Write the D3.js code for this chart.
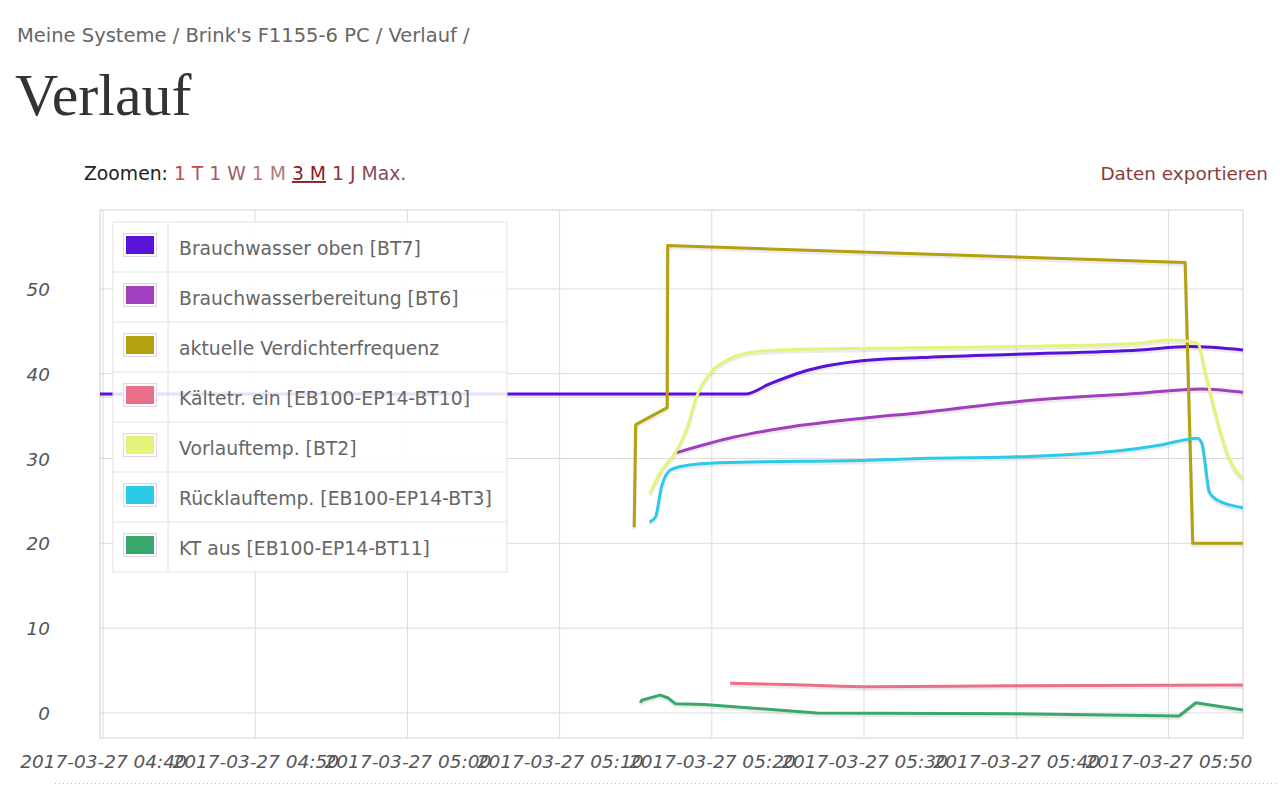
<!DOCTYPE html>
<html><head><meta charset="utf-8">
<script src="https://cdn.jsdelivr.net/npm/d3@7"></script>
<style>body{margin:0;background:#fff}svg{display:block}</style>
</head><body><svg id="c" width="1280" height="792"></svg>
<script>
// ---------- data ----------
const seriesNames = [
  "Brauchwasser oben [BT7]",
  "Brauchwasserbereitung [BT6]",
  "aktuelle Verdichterfrequenz",
  "Kältetr. ein [EB100-EP14-BT10]",
  "Vorlauftemp. [BT2]",
  "Rücklauftemp. [EB100-EP14-BT3]",
  "KT aus [EB100-EP14-BT11]"
];
const seriesColors = ["#5a12d8","#a23fbf","#b5a00f","#ea7089","#e4f47a","#2ccae9","#3aa86b"];

const bt7Times  = ["04:39:48","05:22:12","05:23:48","05:26:18","05:29:42","05:33:42","05:40:00","05:48:06","05:51:24","05:54:54"];
const bt7Values = [37.6,37.6,38.8,40.4,41.5,41.9,42.3,42.8,43.2,42.8];

const bt6Times  = ["05:17:42","05:21:24","05:24:42","05:30:12","05:33:42","05:40:00","05:48:06","05:52:06","05:54:54"];
const bt6Values = [30.7,32.5,33.6,34.8,35.4,36.7,37.7,38.2,37.8];

const freqTimes  = ["05:14:54","05:15:00","05:17:04","05:17:06","05:51:06","05:51:36","05:54:54"];
const freqValues = [21.9,34.0,36.0,55.1,53.1,20.0,20.0];

const bt10Times  = ["05:21:12","05:26:00","05:30:30","05:40:00","05:54:54"];
const bt10Values = [3.5,3.3,3.1,3.2,3.3];

const bt2Times  = ["05:15:56","05:16:36","05:17:42","05:18:24","05:19:00","05:19:54","05:21:00","05:22:30","05:24:42","05:30:12","05:40:00","05:48:06","05:50:06","05:51:54","05:52:30","05:53:12","05:53:51","05:54:30","05:54:54"];
const bt2Values = [25.9,28.3,31.0,33.7,37.3,40.1,41.6,42.5,42.8,43.0,43.2,43.6,44.0,43.6,39.6,34.6,30.7,28.4,27.7];

const bt3Times  = ["05:15:54","05:16:18","05:16:42","05:17:18","05:18:24","05:20:30","05:30:12","05:33:42","05:40:00","05:45:30","05:49:30","05:51:54","05:52:12","05:52:42","05:53:12","05:54:54"];
const bt3Values = [22.5,23.1,26.7,28.7,29.2,29.5,29.8,30.0,30.2,30.7,31.6,32.4,31.8,26.0,25.1,24.2];

const bt11Times  = ["05:15:18","05:15:24","05:16:36","05:17:06","05:17:36","05:19:30","05:26:54","05:40:00","05:50:42","05:51:48","05:54:54"];
const bt11Values = [1.2,1.5,2.1,1.8,1.1,1.0,0.0,-0.1,-0.35,1.2,0.35];

const yTickValues = [0,10,20,30,40,50];
const xTickTimes = ["04:40:00","04:50:00","05:00:00","05:10:00","05:20:00","05:30:00","05:40:00","05:50:00"];
const xDomainTimes = ["04:39:48","05:54:54"];
const yDomain = [-2.95, 59.3];

// ---------- helpers ----------
const parse = d3.timeParse("%Y-%m-%d %H:%M:%S");
const T = s => parse("2017-03-27 " + s);
const zip = (ts, vs) => ts.map((t,i)=>({t:T(t), v:vs[i]}));

const series = [
  {data: zip(bt7Times, bt7Values), curve: d3.curveMonotoneX},
  {data: zip(bt6Times, bt6Values), curve: d3.curveMonotoneX},
  {data: zip(freqTimes, freqValues), curve: d3.curveLinear},
  {data: zip(bt10Times, bt10Values), curve: d3.curveMonotoneX},
  {data: zip(bt2Times, bt2Values), curve: d3.curveMonotoneX},
  {data: zip(bt3Times, bt3Values), curve: d3.curveMonotoneX},
  {data: zip(bt11Times, bt11Values), curve: d3.curveLinear}
];

const svg = d3.select("#c");
const FONT = "DejaVu Sans, Verdana, sans-serif";

// ---------- header ----------
svg.append("text").attr("x",17).attr("y",42).attr("font-family",FONT).attr("font-size",19.5)
  .attr("fill","#666").text("Meine Systeme / Brink's F1155-6 PC / Verlauf /");
svg.append("text").attr("x",15).attr("y",115).attr("font-family","Liberation Serif, Times New Roman, serif")
  .attr("font-size",60).attr("fill","#333").text("Verlauf");

const zt = svg.append("text").attr("x",84).attr("y",180).attr("font-family",FONT).attr("font-size",18.8);
zt.append("tspan").attr("fill","#222").text("Zoomen: ");
const links = [["1 T","#c24a4a"],["1 W","#a25a62"],["1 M","#b37a7a"],["3 M","#8b1c1c"],["1 J","#8b3a3a"],["Max.","#8b4a5a"]];
links.forEach((l,i)=>{
  const ts = zt.append("tspan").attr("fill",l[1]).text(l[0]);
  if (l[0]==="3 M") ts.attr("text-decoration","underline");
  if (i<links.length-1) zt.append("tspan").text(" ");
});
svg.append("text").attr("x",1268).attr("y",180).attr("text-anchor","end").attr("font-family",FONT)
  .attr("font-size",18.4).attr("fill","#8a3c3c").text("Daten exportieren");

// ---------- scales ----------
const L=100, R=1243, TOP=210, BOT=738;
const x = d3.scaleTime().domain(xDomainTimes.map(T)).range([L,R]);
const y = d3.scaleLinear().domain(yDomain).range([BOT,TOP]);

// grid
const grid = svg.append("g");
grid.selectAll(".hg").data(yTickValues).join("line")
  .attr("x1",L).attr("x2",R).attr("y1",d=>y(d)).attr("y2",d=>y(d))
  .attr("stroke","#dcdcdc").attr("stroke-width",1);
grid.selectAll(".vg").data(xTickTimes.map(T)).join("line")
  .attr("y1",TOP).attr("y2",BOT).attr("x1",d=>x(d)).attr("x2",d=>x(d))
  .attr("stroke","#dcdcdc").attr("stroke-width",1);
svg.append("rect").attr("x",L).attr("y",TOP).attr("width",R-L).attr("height",BOT-TOP)
  .attr("fill","none").attr("stroke","#d0d0d0").attr("stroke-width",1);

// axes labels
const yAxis = d3.axisLeft(y).tickValues(yTickValues).tickSize(0).tickPadding(0).tickFormat(d3.format("d"));
const gy = svg.append("g").attr("transform","translate(50,0)").call(yAxis);
gy.select(".domain").remove();
gy.selectAll("text").attr("font-family",FONT).attr("font-size",18.4).attr("font-style","italic")
  .attr("fill","#555").attr("dy","0.36em");

const xAxis = d3.axisBottom(x).tickValues(xTickTimes.map(T)).tickSize(0).tickPadding(0)
  .tickFormat(d3.timeFormat("%Y-%m-%d %H:%M"));
const gx = svg.append("g").attr("transform","translate(0,768)").call(xAxis);
gx.select(".domain").remove();
gx.selectAll("text").attr("font-family",FONT).attr("font-size",18.5).attr("font-style","italic")
  .attr("fill","#555").attr("dy",0);

// dotted separator
svg.append("line").attr("x1",55).attr("x2",1276).attr("y1",783.5).attr("y2",783.5)
  .attr("stroke","#bbb").attr("stroke-width",1).attr("stroke-dasharray","1,3");

// ---------- lines ----------
const plot = svg.append("g");
series.forEach((s,i)=>{
  const line = d3.line().x(d=>x(d.t)).y(d=>y(d.v)).curve(s.curve);
  plot.append("path").attr("d",line(s.data)).attr("fill","none")
    .attr("stroke","#000").attr("stroke-opacity",0.08).attr("stroke-width",4)
    .attr("transform","translate(0,2)").attr("stroke-linejoin","round");
  plot.append("path").attr("d",line(s.data)).attr("fill","none")
    .attr("stroke",seriesColors[i]).attr("stroke-width",3).attr("stroke-linejoin","round");
});

// ---------- legend ----------
const lg = svg.append("g");
const LX=113, LY=222, LW=394, RH=50;
lg.append("rect").attr("x",LX).attr("y",LY).attr("width",LW).attr("height",RH*seriesNames.length)
  .attr("fill","#fff").attr("fill-opacity",0.86).attr("stroke","#e2e2e2");
seriesNames.forEach((n,i)=>{
  const ry = LY + i*RH;
  if (i>0) lg.append("line").attr("x1",LX).attr("x2",LX+LW).attr("y1",ry).attr("y2",ry).attr("stroke","#e2e2e2");
  lg.append("rect").attr("x",123.5).attr("y",ry+11.5).attr("width",33).attr("height",23)
    .attr("fill","#fff").attr("stroke","#e6d4e6");
  lg.append("rect").attr("x",126).attr("y",ry+14).attr("width",28).attr("height",18).attr("fill",seriesColors[i]);
  lg.append("text").attr("x",179).attr("y",ry+33).attr("font-family",FONT).attr("font-size",18.8)
    .attr("fill","#666").text(n);
});
lg.append("line").attr("x1",168).attr("x2",168).attr("y1",LY).attr("y2",LY+RH*seriesNames.length).attr("stroke","#e2e2e2");
</script></body></html>
